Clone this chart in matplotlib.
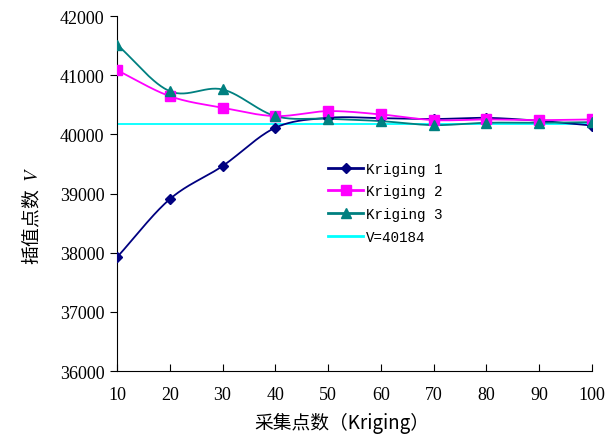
import numpy as np
import matplotlib
matplotlib.use("Agg")
import matplotlib.pyplot as plt

x = [10, 20, 30, 40, 50, 60, 70, 80, 90, 100]
k1 = [37922, 38905, 39465, 40113, 40280, 40275, 40260, 40280, 40230, 40150]
k2 = [41086, 40647, 40451, 40310, 40394, 40338, 40242, 40253, 40242, 40253]
k3 = [41520, 40731, 40760, 40310, 40265, 40225, 40157, 40197, 40197, 40208]
v_ref = 40184
xticks = [10, 20, 30, 40, 50, 60, 70, 80, 90, 100]
yticks = [36000, 37000, 38000, 39000, 40000, 41000, 42000]

plt.rcParams['mathtext.fontset'] = 'stix'


def smooth(xs, ys, n=30):
    xs = np.asarray(xs, float)
    ys = np.asarray(ys, float)
    px = np.concatenate([[2 * xs[0] - xs[1]], xs, [2 * xs[-1] - xs[-2]]])
    py = np.concatenate([[2 * ys[0] - ys[1]], ys, [2 * ys[-1] - ys[-2]]])
    ox, oy = [], []
    for i in range(1, len(px) - 2):
        t = np.linspace(0, 1, n, endpoint=False)
        for arr, out in ((px, ox), (py, oy)):
            p0, p1, p2, p3 = arr[i - 1], arr[i], arr[i + 1], arr[i + 2]
            c = 0.5 * ((2 * p1) + (-p0 + p2) * t + (2 * p0 - 5 * p1 + 4 * p2 - p3) * t ** 2
                       + (-p0 + 3 * p1 - 3 * p2 + p3) * t ** 3)
            out.extend(c)
    ox.append(xs[-1])
    oy.append(ys[-1])
    return np.array(ox), np.array(oy)


fig = plt.figure(figsize=(6.06, 4.39), dpi=100)
ax = fig.add_axes([0.193, 0.1526, 0.784, 0.8084])

series = [
    (k1, '#000080', 'D', 5.5, 'Kriging 1'),
    (k2, '#FF00FF', 's', 7.5, 'Kriging 2'),
    (k3, '#008080', '^', 7.5, 'Kriging 3'),
]
handles = []
for ys, col, mk, ms, lab in series:
    sx, sy = smooth(x, ys)
    ax.plot(sx, sy, color=col, lw=1.3, zorder=3)
    ax.plot(x, ys, ls='none', marker=mk, ms=ms, color=col, zorder=4)
    h, = ax.plot([], [], color=col, lw=2, marker=mk, ms=ms, label=lab)
    handles.append(h)
ax.plot([x[0], x[-1]], [v_ref, v_ref], color='#00FFFF', lw=1.3, zorder=2)
h, = ax.plot([], [], color='#00FFFF', lw=2, label='V=40184')
handles.append(h)

ax.set_xlim(10, 100)
ax.set_ylim(36000, 42000)
ax.set_xticks(xticks)
ax.set_yticks(yticks)
ax.spines['top'].set_visible(False)
ax.spines['right'].set_visible(False)
ax.tick_params(axis='x', direction='in', length=5, pad=11)
ax.tick_params(axis='y', direction='out', length=5, pad=4)
for lab in ax.get_xticklabels() + ax.get_yticklabels():
    lab.set_fontfamily('Liberation Serif')
    lab.set_fontsize(13)

ax.set_xlabel('采集点数（Kriging）', fontsize=13.5,
              family=['Noto Sans CJK SC', 'DejaVu Sans'])
ax.xaxis.set_label_coords(0.474, -0.115)
ax.set_ylabel('插值点数  $V$', fontsize=13.5,
              family=['Noto Sans CJK SC', 'DejaVu Sans'])
ax.yaxis.set_label_coords(-0.155, 0.44)

leg = ax.legend(handles=handles, loc='upper left', bbox_to_anchor=(0.445, 0.59),
                frameon=False, prop={'family': 'Liberation Mono', 'size': 10.3},
                handlelength=2.4, handletextpad=0.2, labelspacing=0.62,
                borderaxespad=0, borderpad=0)

fig.savefig('out.png', dpi=100)
